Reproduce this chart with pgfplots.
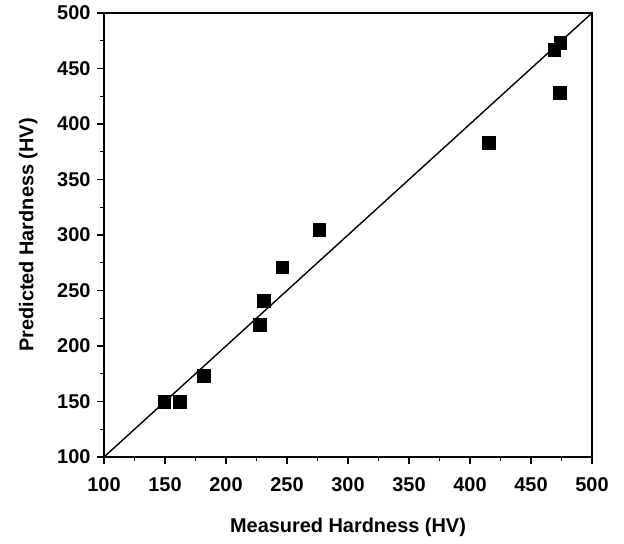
\documentclass[border=0pt]{standalone}
\usepackage{fontspec}
\setmainfont{Liberation Sans}
\usepackage{pgfplots}
\pgfplotsset{compat=1.18}
\begin{document}
\begin{tikzpicture}[x=1bp,y=1bp]
\path[use as bounding box] (0,0) rectangle (624,544);
\begin{axis}[
  at={(104bp,87bp)}, anchor=south west,
  width=488bp, height=444bp, scale only axis,
  xmin=100, xmax=500, ymin=100, ymax=500,
  xtick={100,150,...,500}, ytick={100,150,...,500},
  minor tick num=1,
  axis x line*=bottom, axis y line*=left,
  axis line style={-, line width=2.2bp},
  tick align=outside,
  major tick length=7bp, minor tick length=4bp,
  every tick/.style={black, line width=1.3bp},
  /pgf/number format/assume math mode=true,
  /pgf/number format/1000 sep={},
  ticklabel style={font=\fontsize{20}{22}\selectfont\bfseries},
  xticklabel style={yshift=-10bp},
  yticklabel style={xshift=-3bp},
  xlabel={Measured Hardness (HV)},
  ylabel={Predicted Hardness (HV)},
  label style={font=\fontsize{20}{22}\selectfont\bfseries},
  xlabel style={yshift=-20bp},
  ylabel style={yshift=13bp},
  clip=false,
]
\addplot[black, line width=1.4bp, no marks] coordinates {(100,100) (500,500)};
\addplot[only marks, mark=square*, mark size=6.3bp, black] coordinates {
(149.5,150) (162,150) (181.5,173) (227.5,219) (231,241) (246,271) (276.5,305)
(415.5,383) (469,467) (474,473) (473.5,428)
};
\draw[line width=1.4bp] (rel axis cs:0,1) -- (rel axis cs:1,1) -- (rel axis cs:1,0);
\end{axis}
\end{tikzpicture}
\end{document}
